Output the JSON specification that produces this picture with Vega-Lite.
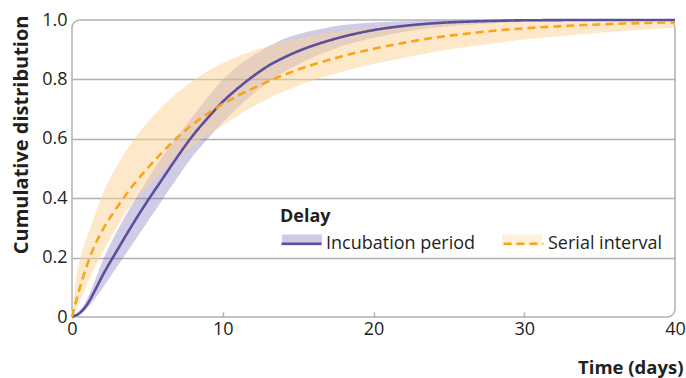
{
  "$schema": "https://vega.github.io/schema/vega-lite/v6.json",
  "width": 603,
  "height": 297,
  "autosize": "none",
  "padding": {"left": 72, "top": 20, "right": 11, "bottom": 61},
  "background": "white",
  "config": {
    "font": "Open Sans",
    "view": {"stroke": "#b1b1b4", "strokeWidth": 1.5, "cornerRadius": 8},
    "axis": {
      "labelFont": "Open Sans", "labelFontSize": 18, "labelColor": "#231f20",
      "titleFont": "Open Sans", "titleFontSize": 18.5, "titleFontWeight": "bold", "titleColor": "#231f20",
      "domain": false
    },
    "legend": {
      "labelFont": "Open Sans", "labelFontSize": 18, "labelColor": "#231f20",
      "titleFont": "Open Sans", "titleFontSize": 18, "titleFontWeight": "bold", "titleColor": "#231f20"
    }
  },
  "datasets": {
    "bands": [
      {"day": 0, "Delay": "Incubation period", "lower": 0, "upper": 0},
      {"day": 0.5, "Delay": "Incubation period", "lower": 0.008, "upper": 0.02},
      {"day": 1, "Delay": "Incubation period", "lower": 0.03, "upper": 0.06},
      {"day": 1.5, "Delay": "Incubation period", "lower": 0.06, "upper": 0.12},
      {"day": 2, "Delay": "Incubation period", "lower": 0.095, "upper": 0.185},
      {"day": 3, "Delay": "Incubation period", "lower": 0.17, "upper": 0.29},
      {"day": 4, "Delay": "Incubation period", "lower": 0.245, "upper": 0.38},
      {"day": 5, "Delay": "Incubation period", "lower": 0.32, "upper": 0.462},
      {"day": 6, "Delay": "Incubation period", "lower": 0.395, "upper": 0.54},
      {"day": 7, "Delay": "Incubation period", "lower": 0.47, "upper": 0.61},
      {"day": 8, "Delay": "Incubation period", "lower": 0.54, "upper": 0.675},
      {"day": 9, "Delay": "Incubation period", "lower": 0.6, "upper": 0.74},
      {"day": 10, "Delay": "Incubation period", "lower": 0.655, "upper": 0.8},
      {"day": 11, "Delay": "Incubation period", "lower": 0.705, "upper": 0.845},
      {"day": 12, "Delay": "Incubation period", "lower": 0.75, "upper": 0.88},
      {"day": 13, "Delay": "Incubation period", "lower": 0.79, "upper": 0.91},
      {"day": 14, "Delay": "Incubation period", "lower": 0.823, "upper": 0.935},
      {"day": 15, "Delay": "Incubation period", "lower": 0.85, "upper": 0.952},
      {"day": 16, "Delay": "Incubation period", "lower": 0.875, "upper": 0.965},
      {"day": 17, "Delay": "Incubation period", "lower": 0.895, "upper": 0.975},
      {"day": 18, "Delay": "Incubation period", "lower": 0.913, "upper": 0.983},
      {"day": 19, "Delay": "Incubation period", "lower": 0.928, "upper": 0.988},
      {"day": 20, "Delay": "Incubation period", "lower": 0.94, "upper": 0.992},
      {"day": 22, "Delay": "Incubation period", "lower": 0.96, "upper": 0.996},
      {"day": 24, "Delay": "Incubation period", "lower": 0.974, "upper": 0.998},
      {"day": 26, "Delay": "Incubation period", "lower": 0.983, "upper": 0.999},
      {"day": 28, "Delay": "Incubation period", "lower": 0.989, "upper": 1},
      {"day": 30, "Delay": "Incubation period", "lower": 0.993, "upper": 1},
      {"day": 35, "Delay": "Incubation period", "lower": 0.998, "upper": 1},
      {"day": 40, "Delay": "Incubation period", "lower": 1, "upper": 1},
      {"day": 0, "Delay": "Serial interval", "lower": 0, "upper": 0},
      {"day": 0.25, "Delay": "Serial interval", "lower": 0.025, "upper": 0.12},
      {"day": 0.5, "Delay": "Serial interval", "lower": 0.052, "upper": 0.19},
      {"day": 1, "Delay": "Serial interval", "lower": 0.11, "upper": 0.27},
      {"day": 1.5, "Delay": "Serial interval", "lower": 0.165, "upper": 0.34},
      {"day": 2, "Delay": "Serial interval", "lower": 0.215, "upper": 0.41},
      {"day": 3, "Delay": "Serial interval", "lower": 0.305, "upper": 0.51},
      {"day": 4, "Delay": "Serial interval", "lower": 0.382, "upper": 0.59},
      {"day": 5, "Delay": "Serial interval", "lower": 0.44, "upper": 0.655},
      {"day": 6, "Delay": "Serial interval", "lower": 0.49, "upper": 0.71},
      {"day": 7, "Delay": "Serial interval", "lower": 0.535, "upper": 0.755},
      {"day": 8, "Delay": "Serial interval", "lower": 0.575, "upper": 0.795},
      {"day": 9, "Delay": "Serial interval", "lower": 0.612, "upper": 0.828},
      {"day": 10, "Delay": "Serial interval", "lower": 0.645, "upper": 0.855},
      {"day": 11, "Delay": "Serial interval", "lower": 0.678, "upper": 0.877},
      {"day": 12, "Delay": "Serial interval", "lower": 0.708, "upper": 0.896},
      {"day": 13, "Delay": "Serial interval", "lower": 0.735, "upper": 0.912},
      {"day": 14, "Delay": "Serial interval", "lower": 0.758, "upper": 0.926},
      {"day": 15, "Delay": "Serial interval", "lower": 0.779, "upper": 0.938},
      {"day": 16, "Delay": "Serial interval", "lower": 0.797, "upper": 0.948},
      {"day": 17, "Delay": "Serial interval", "lower": 0.813, "upper": 0.957},
      {"day": 18, "Delay": "Serial interval", "lower": 0.827, "upper": 0.964},
      {"day": 19, "Delay": "Serial interval", "lower": 0.84, "upper": 0.97},
      {"day": 20, "Delay": "Serial interval", "lower": 0.852, "upper": 0.975},
      {"day": 22, "Delay": "Serial interval", "lower": 0.873, "upper": 0.983},
      {"day": 24, "Delay": "Serial interval", "lower": 0.892, "upper": 0.989},
      {"day": 26, "Delay": "Serial interval", "lower": 0.908, "upper": 0.993},
      {"day": 28, "Delay": "Serial interval", "lower": 0.922, "upper": 0.995},
      {"day": 30, "Delay": "Serial interval", "lower": 0.934, "upper": 0.997},
      {"day": 32, "Delay": "Serial interval", "lower": 0.944, "upper": 0.998},
      {"day": 35, "Delay": "Serial interval", "lower": 0.957, "upper": 0.999},
      {"day": 38, "Delay": "Serial interval", "lower": 0.968, "upper": 1},
      {"day": 40, "Delay": "Serial interval", "lower": 0.974, "upper": 1}
    ],
    "lines": [
      {"day": 0, "Delay": "Incubation period", "value": 0},
      {"day": 0.5, "Delay": "Incubation period", "value": 0.013},
      {"day": 1, "Delay": "Incubation period", "value": 0.042},
      {"day": 1.5, "Delay": "Incubation period", "value": 0.087},
      {"day": 2, "Delay": "Incubation period", "value": 0.137},
      {"day": 3, "Delay": "Incubation period", "value": 0.225},
      {"day": 4, "Delay": "Incubation period", "value": 0.31},
      {"day": 5, "Delay": "Incubation period", "value": 0.39},
      {"day": 6, "Delay": "Incubation period", "value": 0.465},
      {"day": 7, "Delay": "Incubation period", "value": 0.54},
      {"day": 8, "Delay": "Incubation period", "value": 0.61},
      {"day": 9, "Delay": "Incubation period", "value": 0.67},
      {"day": 10, "Delay": "Incubation period", "value": 0.725},
      {"day": 11, "Delay": "Incubation period", "value": 0.77},
      {"day": 12, "Delay": "Incubation period", "value": 0.81},
      {"day": 13, "Delay": "Incubation period", "value": 0.845},
      {"day": 14, "Delay": "Incubation period", "value": 0.872},
      {"day": 15, "Delay": "Incubation period", "value": 0.895},
      {"day": 16, "Delay": "Incubation period", "value": 0.914},
      {"day": 17, "Delay": "Incubation period", "value": 0.93},
      {"day": 18, "Delay": "Incubation period", "value": 0.944},
      {"day": 19, "Delay": "Incubation period", "value": 0.956},
      {"day": 20, "Delay": "Incubation period", "value": 0.966},
      {"day": 22, "Delay": "Incubation period", "value": 0.98},
      {"day": 24, "Delay": "Incubation period", "value": 0.989},
      {"day": 26, "Delay": "Incubation period", "value": 0.994},
      {"day": 28, "Delay": "Incubation period", "value": 0.997},
      {"day": 30, "Delay": "Incubation period", "value": 0.999},
      {"day": 35, "Delay": "Incubation period", "value": 1},
      {"day": 40, "Delay": "Incubation period", "value": 1},
      {"day": 0, "Delay": "Serial interval", "value": 0},
      {"day": 0.25, "Delay": "Serial interval", "value": 0.05},
      {"day": 0.5, "Delay": "Serial interval", "value": 0.095},
      {"day": 1, "Delay": "Serial interval", "value": 0.175},
      {"day": 1.5, "Delay": "Serial interval", "value": 0.24},
      {"day": 2, "Delay": "Serial interval", "value": 0.29},
      {"day": 3, "Delay": "Serial interval", "value": 0.37},
      {"day": 4, "Delay": "Serial interval", "value": 0.44},
      {"day": 5, "Delay": "Serial interval", "value": 0.5},
      {"day": 6, "Delay": "Serial interval", "value": 0.555},
      {"day": 7, "Delay": "Serial interval", "value": 0.605},
      {"day": 8, "Delay": "Serial interval", "value": 0.648},
      {"day": 9, "Delay": "Serial interval", "value": 0.685},
      {"day": 10, "Delay": "Serial interval", "value": 0.717},
      {"day": 11, "Delay": "Serial interval", "value": 0.745},
      {"day": 12, "Delay": "Serial interval", "value": 0.77},
      {"day": 13, "Delay": "Serial interval", "value": 0.793},
      {"day": 14, "Delay": "Serial interval", "value": 0.814},
      {"day": 15, "Delay": "Serial interval", "value": 0.833},
      {"day": 16, "Delay": "Serial interval", "value": 0.85},
      {"day": 17, "Delay": "Serial interval", "value": 0.865},
      {"day": 18, "Delay": "Serial interval", "value": 0.879},
      {"day": 19, "Delay": "Serial interval", "value": 0.892},
      {"day": 20, "Delay": "Serial interval", "value": 0.903},
      {"day": 22, "Delay": "Serial interval", "value": 0.923},
      {"day": 24, "Delay": "Serial interval", "value": 0.94},
      {"day": 26, "Delay": "Serial interval", "value": 0.953},
      {"day": 28, "Delay": "Serial interval", "value": 0.964},
      {"day": 30, "Delay": "Serial interval", "value": 0.972},
      {"day": 32, "Delay": "Serial interval", "value": 0.978},
      {"day": 34, "Delay": "Serial interval", "value": 0.983},
      {"day": 36, "Delay": "Serial interval", "value": 0.987},
      {"day": 38, "Delay": "Serial interval", "value": 0.99},
      {"day": 40, "Delay": "Serial interval", "value": 0.992}
    ]
  },
  "encoding": {
    "x": {
      "field": "day", "type": "quantitative",
      "scale": {"domain": [0, 40], "nice": false},
      "axis": {
        "values": [0, 10, 20, 30, 40],
        "title": "Time (days)",
        "grid": false,
        "tickSize": -5,
        "tickColor": "#b1b1b4",
        "tickWidth": 1.5,
        "tickOpacity": {"condition": {"test": "datum.value == 0 || datum.value == 40", "value": 0}, "value": 1},
        "labelPadding": 8,
        "labelFlush": false,
        "titleX": 611,
        "titleY": 56,
        "titleAlign": "right",
        "titleBaseline": "alphabetic"
      }
    }
  },
  "layer": [
    {
      "data": {"name": "bands"},
      "transform": [{"filter": "datum.Delay == 'Incubation period'"}],
      "mark": {"type": "area", "opacity": 0.35, "interpolate": "monotone"},
      "encoding": {
        "y": {
          "field": "lower", "type": "quantitative",
          "scale": {"domain": [0, 1], "nice": false},
          "axis": {
            "values": [0, 0.2, 0.4, 0.6, 0.8, 1],
            "labelExpr": "datum.value == 0 ? '0' : format(datum.value, '.1f')",
            "ticks": false,
            "grid": true,
            "gridColor": "#b1b1b4",
            "gridWidth": 1.5,
            "gridOpacity": {"condition": {"test": "datum.value == 0 || datum.value == 1", "value": 0}, "value": 1},
            "labelPadding": 5,
            "labelFlush": false,
            "title": "Cumulative distribution",
            "titleFontSize": 20,
            "titleX": -45,
            "titleY": -5,
            "titleAlign": "right",
            "titleBaseline": "alphabetic",
            "titleAngle": -90
          }
        },
        "y2": {"field": "upper"},
        "fill": {
          "field": "Delay", "type": "nominal",
          "scale": {"domain": ["Incubation period", "Serial interval"], "range": ["#796db8", "#fbd393"]},
          "legend": {
            "title": null,
            "orient": "none",
            "legendX": 210,
            "legendY": 200,
            "direction": "horizontal",
            "symbolType": "M-1,-0.28H1V0.28H-1Z",
            "symbolSize": 1600,
            "symbolStrokeWidth": 0,
            "symbolStrokeColor": "transparent",
            "labelExpr": "''",
            "columnPadding": 174,
            "labelOffset": 6,
            "encode": {
              "symbols": {
                "update": {
                  "fill": {"signal": "datum.value === 'Serial interval' ? '#fde9c9' : '#d0cce6'"},
                  "opacity": {"value": 1}
                }
              }
            }
          }
        }
      }
    },
    {
      "data": {"name": "bands"},
      "transform": [{"filter": "datum.Delay == 'Serial interval'"}],
      "mark": {"type": "area", "opacity": 0.5, "interpolate": "monotone"},
      "encoding": {
        "y": {"field": "lower", "type": "quantitative"},
        "y2": {"field": "upper"},
        "fill": {"field": "Delay", "type": "nominal"}
      }
    },
    {
      "data": {"name": "lines"},
      "mark": {"type": "line", "interpolate": "monotone", "strokeWidth": 2.6},
      "encoding": {
        "y": {"field": "value", "type": "quantitative"},
        "stroke": {
          "field": "Delay", "type": "nominal",
          "scale": {"range": ["#5d4d9f", "#f8a51c"]},
          "legend": {
            "title": "Delay",
            "orient": "none",
            "legendX": 208,
            "legendY": 188,
            "direction": "horizontal",
            "symbolType": "stroke",
            "symbolSize": 1600,
            "symbolStrokeWidth": 2.6,
            "columnPadding": 22,
            "labelOffset": 3,
            "titlePadding": -4
          }
        },
        "strokeDash": {
          "field": "Delay", "type": "nominal",
          "scale": {"range": [[1, 0], [8, 5]]}
        }
      }
    }
  ]
}
